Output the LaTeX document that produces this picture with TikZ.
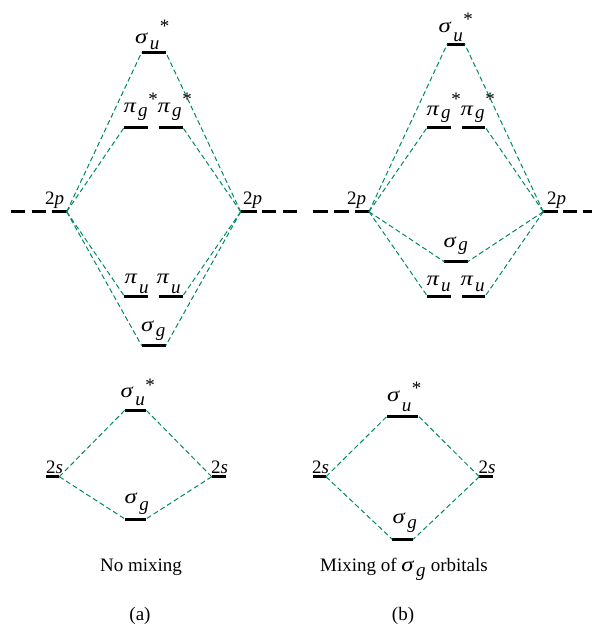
\documentclass[tikz,border=0pt]{standalone}
\usepackage{fontspec}
\usepackage{graphicx}
\setmainfont{Liberation Serif}
\definecolor{mogreen}{RGB}{0,136,102}
% #1 greek, #2 subscript, #3 star, #4 subscript drop (pt), #5 star raise (pt)
\newcommand\orb[5]{\scalebox{1.3}[1.08]{\textit{#1}}\kern1.6pt\raisebox{-#4pt}{\textit{#2}}\kern0.6pt\raisebox{#5pt}{#3}}
\begin{document}
\begin{tikzpicture}[x=1pt,y=-1pt,
  lvl/.style={line width=3pt,black},
  con/.style={mogreen,line width=1pt,dash pattern=on 5pt off 3pt},
  lab/.style={anchor=base west,inner sep=0pt,font=\fontsize{19}{22}\selectfont},
  captext/.style={anchor=base,inner sep=0pt,font=\fontsize{19}{22}\selectfont}]
\useasboundingbox (0,0) rectangle (592,625);
% ---------- panel (a), 2p ----------
\coordinate (aPLa) at (10.7,211.7); \coordinate (aPLb) at (25,211.7);
\coordinate (aPLc) at (31.7,211.7); \coordinate (aPLd) at (45.7,211.7);
\coordinate (aPL) at (51.7,211.7);  \coordinate (aPLe) at (66.7,211.7);
\coordinate (aPR) at (240.7,211.7); \coordinate (aPRe) at (256.7,211.7);
\coordinate (aPRa) at (261.7,211.7); \coordinate (aPRb) at (276,211.7);
\coordinate (aPRc) at (282.7,211.7); \coordinate (aPRd) at (296.7,211.7);
\coordinate (aSuL) at (141.7,52.3); \coordinate (aSuR) at (165.7,52.3);
\coordinate (aGaL) at (124.3,127.3); \coordinate (aGaR) at (148.3,127.3);
\coordinate (aGbL) at (158.7,127.3); \coordinate (aGbR) at (182.7,127.3);
\coordinate (aUaL) at (124.3,296); \coordinate (aUaR) at (148.3,296);
\coordinate (aUbL) at (158.7,296); \coordinate (aUbR) at (182.7,296);
\coordinate (aSgL) at (141.7,345.7); \coordinate (aSgR) at (165.7,345.7);
\foreach \a/\b in {aPLa/aPLb,aPLc/aPLd,aPL/aPLe,aPR/aPRe,aPRa/aPRb,aPRc/aPRd,
  aSuL/aSuR,aGaL/aGaR,aGbL/aGbR,aUaL/aUaR,aUbL/aUbR,aSgL/aSgR}
  \draw[lvl] (\a) -- (\b);
\foreach \t in {aSuL,aGaL,aUaL,aSgL} \draw[con] (aPLe) -- (\t);
\foreach \t in {aSuR,aGbR,aUbR,aSgR} \draw[con] (aPR) -- (\t);
\node[lab] (aPLlab) at (45,204) {2\textit{p}};
\node[lab] (aPRlab) at (243,204) {2\textit{p}};
\node[lab] (aSulab) at (135,43.5) {\orb{σ}{u}{*}{6}{11.5}};
\node[lab] (aGalab) at (123.5,112.5) {\orb{π}{g}{*}{3.5}{7.5}};
\node[lab] (aGblab) at (157.5,112.5) {\orb{π}{g}{*}{3.5}{7.5}};
\node[lab] (aUalab) at (124.5,283.5) {\orb{π}{u}{}{9.5}{0}};
\node[lab] (aUblab) at (156.5,283.5) {\orb{π}{u}{}{9.5}{0}};
\node[lab] (aSglab) at (141,331.5) {\orb{σ}{g}{}{5}{0}};
% ---------- panel (b), 2p ----------
\coordinate (bPLa) at (313.3,211.7); \coordinate (bPLb) at (328,211.7);
\coordinate (bPLc) at (334,211.7); \coordinate (bPLd) at (349,211.7);
\coordinate (bPL) at (355,211.7);  \coordinate (bPLe) at (369,211.7);
\coordinate (bPR) at (543.3,211.7); \coordinate (bPRe) at (558,211.7);
\coordinate (bPRa) at (562.5,211.7); \coordinate (bPRb) at (577,211.7);
\coordinate (bPRc) at (583,211.7); \coordinate (bPRd) at (594,211.7);
\coordinate (bSuL) at (447.3,44); \coordinate (bSuR) at (464.7,44);
\coordinate (bGaL) at (427.3,127.3); \coordinate (bGaR) at (451,127.3);
\coordinate (bGbL) at (462,127.3); \coordinate (bGbR) at (485.3,127.3);
\coordinate (bSgL) at (444.3,261.7); \coordinate (bSgR) at (467.7,261.7);
\coordinate (bUaL) at (427.3,296); \coordinate (bUaR) at (451,296);
\coordinate (bUbL) at (462,296); \coordinate (bUbR) at (485.3,296);
\foreach \a/\b in {bPLa/bPLb,bPLc/bPLd,bPL/bPLe,bPR/bPRe,bPRa/bPRb,bPRc/bPRd,
  bSuL/bSuR,bGaL/bGaR,bGbL/bGbR,bUaL/bUaR,bUbL/bUbR,bSgL/bSgR}
  \draw[lvl] (\a) -- (\b);
\foreach \t in {bSuL,bGaL,bSgL,bUaL} \draw[con] (bPLe) -- (\t);
\foreach \t in {bSuR,bGbR,bSgR,bUbR} \draw[con] (bPR) -- (\t);
\node[lab] (bPLlab) at (347,204) {2\textit{p}};
\node[lab] (bPRlab) at (547,204) {2\textit{p}};
\node[lab] (bSulab) at (438.5,32) {\orb{σ}{u}{*}{9}{7}};
\node[lab] (bGalab) at (426.5,115) {\orb{π}{g}{*}{3.5}{10}};
\node[lab] (bGblab) at (460.5,115) {\orb{π}{g}{*}{3.5}{10}};
\node[lab] (bSglab) at (443.5,247) {\orb{σ}{g}{}{3}{0}};
\node[lab] (bUalab) at (426.5,285) {\orb{π}{u}{}{6.5}{0}};
\node[lab] (bUblab) at (460.5,285) {\orb{π}{u}{}{6.5}{0}};
% ---------- panel (a), 2s ----------
\coordinate (aSL) at (45.7,476.7); \coordinate (aSLe) at (59.3,476.7);
\coordinate (aSR) at (211.7,476.7); \coordinate (aSRe) at (225.7,476.7);
\coordinate (asuL) at (125,410); \coordinate (asuR) at (146,410);
\coordinate (asgL) at (125,519); \coordinate (asgR) at (146,519);
\foreach \a/\b in {aSL/aSLe,aSR/aSRe,asuL/asuR,asgL/asgR} \draw[lvl] (\a) -- (\b);
\draw[con] (aSLe) -- (asuL); \draw[con] (aSLe) -- (asgL);
\draw[con] (aSR) -- (asuR); \draw[con] (aSR) -- (asgR);
\node[lab] (aSLlab) at (46,473) {2\textit{s}};
\node[lab] (aSRlab) at (211,473) {2\textit{s}};
\node[lab] (asulab) at (120.5,397) {\orb{σ}{u}{*}{8}{6}};
\node[lab] (asglab) at (124.5,503.5) {\orb{σ}{g}{}{6.5}{0}};
% ---------- panel (b), 2s ----------
\coordinate (bSL) at (312.7,476.7); \coordinate (bSLe) at (326,476.7);
\coordinate (bSR) at (479.3,476.7); \coordinate (bSRe) at (492.7,476.7);
\coordinate (bsuL) at (387.3,416); \coordinate (bsuR) at (418.3,416);
\coordinate (bsgL) at (392.3,539.3); \coordinate (bsgR) at (413.3,539.3);
\foreach \a/\b in {bSL/bSLe,bSR/bSRe,bsuL/bsuR,bsgL/bsgR} \draw[lvl] (\a) -- (\b);
\draw[con] (bSLe) -- (bsuL); \draw[con] (bSLe) -- (bsgL);
\draw[con] (bSR) -- (bsuR); \draw[con] (bSR) -- (bsgR);
\node[lab] (bSLlab) at (312,473) {2\textit{s}};
\node[lab] (bSRlab) at (478.5,473) {2\textit{s}};
\node[lab] (bsulab) at (387,401.5) {\orb{σ}{u}{*}{9.5}{7}};
\node[lab] (bsglab) at (392.5,523.5) {\orb{σ}{g}{}{5}{0}};
% ---------- captions ----------
\node[captext] (capa) at (141,571) {No mixing};
\node[captext] (capb) at (404,571) {Mixing of \orb{σ}{g}{}{5}{0} orbitals};
\node[captext] (pa) at (140,620) {(a)};
\node[captext] (pb) at (403,620) {(b)};
\end{tikzpicture}
\end{document}
